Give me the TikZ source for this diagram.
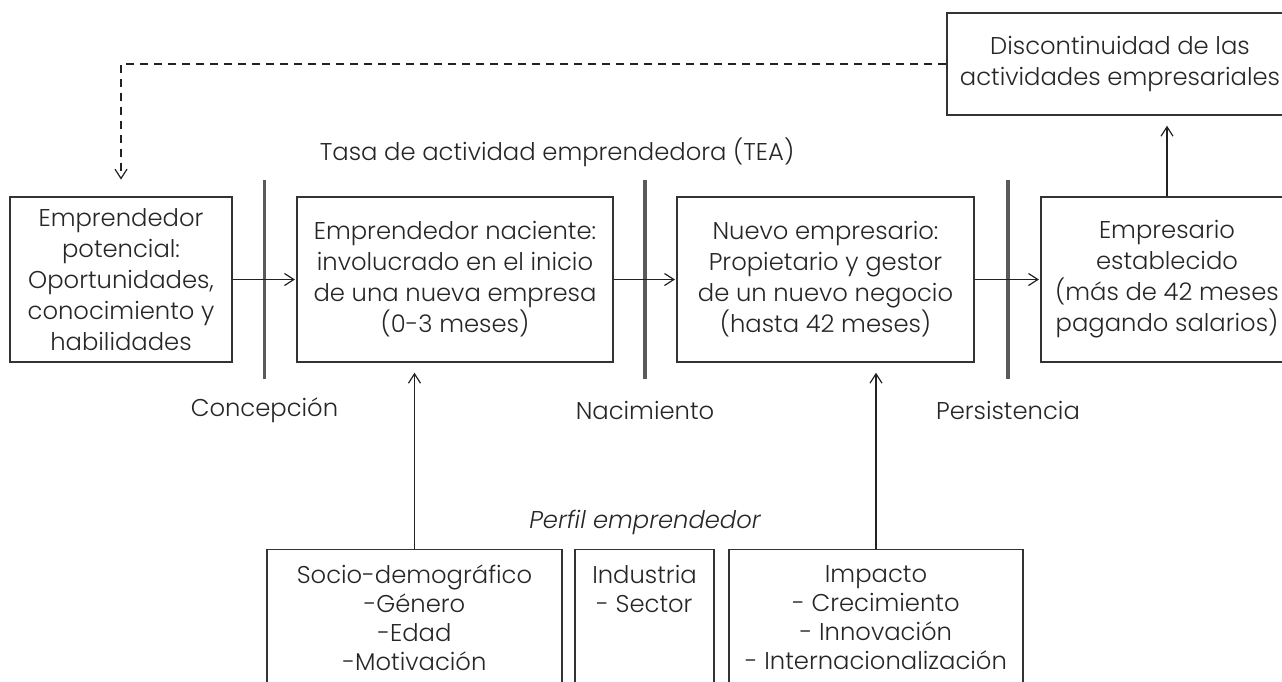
\documentclass[tikz,border=0pt]{standalone}
\usepackage{fontspec}
\setmainfont{Poppins}[UprightFont=* Light, ItalicFont=* Light Italic]
\usetikzlibrary{arrows.meta}
\tikzset{every picture/.style={line width=0.75pt}}

\begin{document}
\begin{tikzpicture}[x=0.75pt,y=0.75pt,yscale=-1,xscale=1,
  stagebox/.style={draw={rgb, 255:red, 51; green, 51; blue, 51 }, line width=1.1pt, inner sep=0pt, align=center,
    minimum height=123.75pt, text={rgb, 255:red, 38; green, 38; blue, 38 }, font=\fontsize{18.2}{23.25}\selectfont},
  profbox/.style={draw={rgb, 255:red, 51; green, 51; blue, 51 }, line width=1.1pt, inner sep=0pt, anchor=north,
    minimum height=130pt},
  proftext/.style={inner sep=0pt, align=center, text={rgb, 255:red, 38; green, 38; blue, 38 }, font=\fontsize{18.2}{21.75}\selectfont},
  phasetext/.style={inner sep=0pt, text={rgb, 255:red, 38; green, 38; blue, 38 }, font=\fontsize{18.2}{22}\selectfont},
  phasebar/.style={draw={rgb, 255:red, 90; green, 90; blue, 90 }, line width=2.4pt},
  flow/.style={draw={rgb, 255:red, 34; green, 34; blue, 34 }, line width=0.9pt, -{Straight Barb[length=7pt,width=9pt]}}
  ]
%uncomment if require: \path (0,682); %set diagram left start at 0, and has height of 682
\path[use as bounding box, clip] (0,0) rectangle (1282,682);

%Shape: Rectangle [stages]
\draw (121,279.5) node [stagebox, minimum width=166.5pt] (pot) {Emprendedor\\potencial:\\Oportunidades,\\conocimiento y\\habilidades};
\draw (455,279.5) node [stagebox, minimum width=237pt] (nac) {Emprendedor naciente:\\involucrado en el inicio\\de una nueva empresa\\(0-3 meses)};
\draw (825.5,279.5) node [stagebox, minimum width=222.75pt] (nue) {Nuevo empresario:\\Propietario y gestor\\de un nuevo negocio\\(hasta 42 meses)};
\draw (1167,279.5) node [stagebox, minimum width=189pt] (est) {Empresario\\establecido\\(más de 42 meses\\pagando salarios)};
\draw (1120,64) node [stagebox, minimum width=259.5pt, minimum height=76.5pt] (disc) {Discontinuidad de las\\actividades empresariales};

%Shape: Rectangle [perfil]
\draw (414.5,549) node [profbox, minimum width=221.25pt] (socio) {};
\draw (644.5,549) node [profbox, minimum width=104.25pt] (ind) {};
\draw (876,549) node [profbox, minimum width=220.5pt] (imp) {};

%Straight Lines [phase bars]
\draw [phasebar] (264.5,180) -- (264.5,379) ;
\draw [phasebar] (645,180) -- (645,379) ;
\draw [phasebar] (1008,180) -- (1008,379) ;

%Straight Lines [flow]
\draw [flow, shorten >=1pt] (pot) -- (nac) ;
\draw [flow, shorten >=1pt] (nac) -- (nue) ;
\draw [flow, shorten >=1pt] (nue) -- (est) ;
\draw [flow, shorten >=7.5pt] (est.north) -- (est.north |- disc.south) ;
\draw [flow, shorten >=7.5pt] (socio.north) -- (socio.north |- nac.south) ;
\draw [flow, shorten >=7.5pt] (imp.north) -- (imp.north |- nue.south) ;
\draw [flow, dash pattern={on 6pt off 4.5pt}, shorten >=12.5pt] (disc.west) -- (pot.north |- disc.west) -- (pot.north) ;

% Text Node
\draw (557,152) node [phasetext] (tea) {Tasa de actividad emprendedora (TEA)};
% Text Node
\draw (264.5,410) node [phasetext] (conc) {Concepción};
% Text Node
\draw (645,410) node [phasetext] (naci) {Nacimiento};
% Text Node
\draw (1008,410) node [phasetext] (pers) {Persistencia};
% Text Node
\draw (645,522) node [phasetext, font=\fontsize{18.2}{22}\selectfont\itshape] (perfil) {Perfil emprendedor};
% Text Node
\draw (414.5,617.5) node [proftext] (sociotxt) {Socio-demográfico\\-Género\\-Edad\\-Motivación};
% Text Node
\draw (644.5,588.5) node [proftext] (indtxt) {Industria\\- Sector};
% Text Node
\draw (876,617.5) node [proftext] (imptxt) {Impacto\\- Crecimiento\\- Innovación\\- Internacionalización};

\end{tikzpicture}
\end{document}
